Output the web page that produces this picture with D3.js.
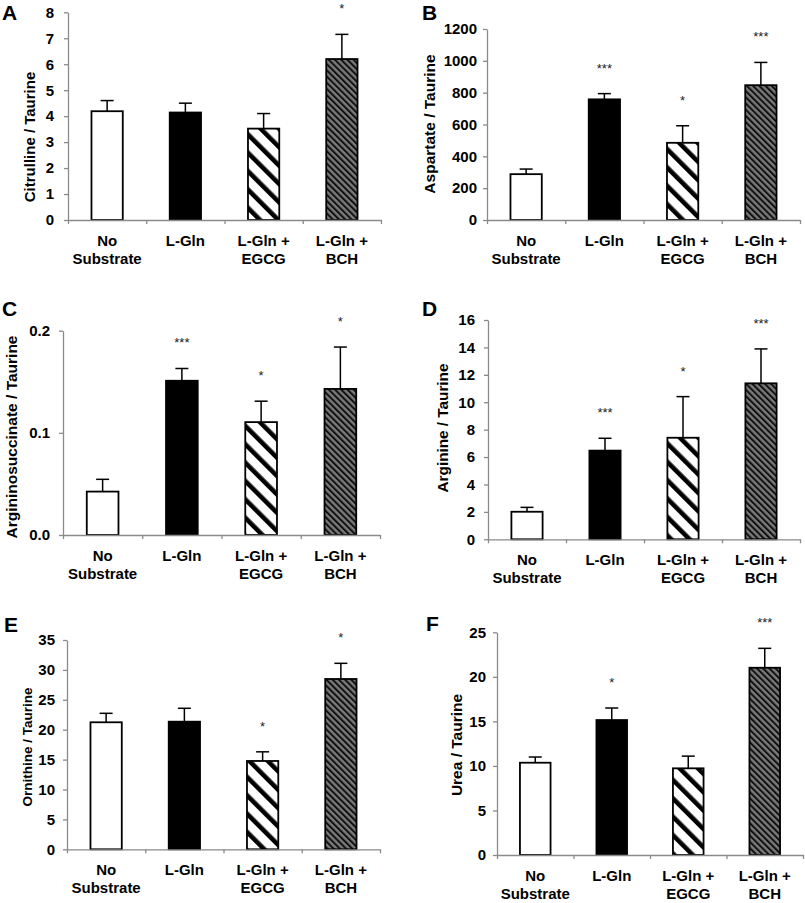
<!DOCTYPE html>
<html>
<head>
<meta charset="utf-8">
<script src="https://cdn.jsdelivr.net/npm/d3@7"></script>
<style>
html,body{margin:0;padding:0;background:#fff;}
svg{display:block;}
text{font-family:"Liberation Sans",Arial,Helvetica,sans-serif;}
</style>
</head>
<body>
<svg id="chart" width="805" height="903"></svg>
<script>
// ---------- data ----------
const categories = ["No Substrate", "L-Gln", "L-Gln + EGCG", "L-Gln + BCH"];
const categoryLines = [["No", "Substrate"], ["L-Gln"], ["L-Gln +", "EGCG"], ["L-Gln +", "BCH"]];

const citrulline = [4.19, 4.14, 3.52, 6.20];
const citrullineErr = [0.41, 0.36, 0.58, 0.95];
const citrullineSig = ["", "", "", "*"];
const citrullineTicks = [0, 1, 2, 3, 4, 5, 6, 7, 8];

const aspartate = [288, 758, 485, 847];
const aspartateErr = [32, 36, 107, 143];
const aspartateSig = ["", "***", "*", "***"];
const aspartateTicks = [0, 200, 400, 600, 800, 1000, 1200];

const argininosuccinate = [0.0425, 0.151, 0.1105, 0.143];
const argininosuccinateErr = [0.012, 0.012, 0.0205, 0.041];
const argininosuccinateSig = ["", "***", "*", "*"];
const argininosuccinateTicks = [0, 0.1, 0.2];

const arginine = [2.01, 6.47, 7.41, 11.38];
const arginineErr = [0.32, 0.90, 3.00, 2.51];
const arginineSig = ["", "***", "*", "***"];
const arginineTicks = [0, 2, 4, 6, 8, 10, 12, 14, 16];

const ornithine = [21.24, 21.34, 14.77, 28.48];
const ornithineErr = [1.50, 2.24, 1.53, 2.62];
const ornithineSig = ["", "", "*", "*"];
const ornithineTicks = [0, 5, 10, 15, 20, 25, 30, 35];

const urea = [10.36, 15.15, 9.73, 21.02];
const ureaErr = [0.64, 1.35, 1.37, 2.18];
const ureaSig = ["", "*", "", "***"];
const ureaTicks = [0, 5, 10, 15, 20, 25];

const panelLetters = ["A", "B", "C", "D", "E", "F"];
const yLabels = ["Citrulline / Taurine", "Aspartate / Taurine", "Argininosuccinate / Taurine",
                 "Arginine / Taurine", "Ornithine / Taurine", "Urea / Taurine"];

// ---------- layout (positions/styles only) ----------
const layout = [
  {x0: 68,  x1: 381, yTop: 12.3,  yBot: 220,   pad: 10, fmt: d3.format("d"),  lx: 2,   ly: 20,  ylx: 30,  yly: 137, ylSize: 15},
  {x0: 487, x1: 800, yTop: 29,    yBot: 220,   pad: 6,  fmt: d3.format("d"),  lx: 422, ly: 20,  ylx: 430, yly: 124, ylSize: 15.5},
  {x0: 63,  x1: 380, yTop: 330.7, yBot: 535,   pad: 9,  fmt: d3.format(".1f"),lx: 2,   ly: 316, ylx: 12,  yly: 437, ylSize: 15.5},
  {x0: 488, x1: 800, yTop: 320,   yBot: 539.3, pad: 9,  fmt: d3.format("d"),  lx: 422, ly: 316, ylx: 443, yly: 428, ylSize: 15.3},
  {x0: 67,  x1: 380, yTop: 640,   yBot: 849.3, pad: 8,  fmt: d3.format("d"),  lx: 4,   ly: 632, ylx: 27,  yly: 747, ylSize: 13.5},
  {x0: 497, x1: 803, yTop: 632.3, yBot: 855,   pad: 7,  fmt: d3.format("d"),  lx: 426, ly: 631, ylx: 457, yly: 745, ylSize: 15.5}
];

const panels = [
  {values: citrulline, errs: citrullineErr, sig: citrullineSig, ticks: citrullineTicks},
  {values: aspartate, errs: aspartateErr, sig: aspartateSig, ticks: aspartateTicks},
  {values: argininosuccinate, errs: argininosuccinateErr, sig: argininosuccinateSig, ticks: argininosuccinateTicks},
  {values: arginine, errs: arginineErr, sig: arginineSig, ticks: arginineTicks},
  {values: ornithine, errs: ornithineErr, sig: ornithineSig, ticks: ornithineTicks},
  {values: urea, errs: ureaErr, sig: ureaSig, ticks: ureaTicks}
];

const svg = d3.select("#chart");
const defs = svg.append("defs");

// stripes "\" direction
const p1 = defs.append("pattern").attr("id", "stripeWide")
  .attr("patternUnits", "userSpaceOnUse").attr("width", 13).attr("height", 13)
  .attr("patternTransform", "rotate(-45)");
p1.append("rect").attr("width", 13).attr("height", 13).attr("fill", "#fff");
p1.append("rect").attr("x", 0).attr("width", 4.6).attr("height", 13).attr("fill", "#000");

const p2 = defs.append("pattern").attr("id", "stripeGray")
  .attr("patternUnits", "userSpaceOnUse").attr("width", 4.4).attr("height", 4.4)
  .attr("patternTransform", "rotate(-45)");
p2.append("rect").attr("width", 4.4).attr("height", 4.4).attr("fill", "#7a7a7a");
p2.append("rect").attr("x", 0).attr("width", 2).attr("height", 4.4).attr("fill", "#111");

const fills = ["#ffffff", "#000000", "url(#stripeWide)", "url(#stripeGray)"];
const axisColor = "#8a8a8a";

panels.forEach((p, i) => {
  const L = layout[i];
  const g = svg.append("g");
  const ticks = p.ticks;
  const y = d3.scaleLinear().domain([0, ticks[ticks.length - 1]]).range([L.yBot, L.yTop]);
  const x = d3.scaleBand().domain(categories).range([L.x0, L.x1]).paddingInner(0.6).paddingOuter(0.3);
  const xb = d3.scaleLinear().domain([0, categories.length]).range([L.x0, L.x1]);

  // y axis
  const ya = g.append("g").attr("transform", `translate(${L.x0},0)`)
    .call(d3.axisLeft(y).tickValues(ticks).tickFormat(L.fmt).tickSize(4).tickSizeOuter(0).tickPadding(L.pad));
  ya.select(".domain").attr("stroke", axisColor).attr("stroke-width", 1.3);
  ya.selectAll(".tick line").attr("stroke", axisColor).attr("stroke-width", 1.3);
  ya.selectAll(".tick text").attr("fill", "#000").attr("font-size", 15).attr("font-weight", "bold")
    .attr("font-family", "'Liberation Sans', Arial, sans-serif");

  // bars
  g.selectAll("rect.bar").data(p.values).enter().append("rect")
    .attr("class", "bar")
    .attr("x", (d, k) => x(categories[k]))
    .attr("y", d => y(d))
    .attr("width", x.bandwidth())
    .attr("height", d => y(0) - y(d))
    .attr("fill", (d, k) => fills[k])
    .attr("stroke", "#000").attr("stroke-width", 1.8);

  // error bars (upper only)
  const cap = 6.5;
  p.values.forEach((v, k) => {
    const cx = x(categories[k]) + x.bandwidth() / 2;
    const top = y(v + p.errs[k]);
    g.append("line").attr("x1", cx).attr("x2", cx).attr("y1", y(v)).attr("y2", top)
      .attr("stroke", "#000").attr("stroke-width", 1.5);
    g.append("line").attr("x1", cx - cap).attr("x2", cx + cap).attr("y1", top).attr("y2", top)
      .attr("stroke", "#000").attr("stroke-width", 1.5);
    if (p.sig[k]) {
      g.append("text").attr("x", cx).attr("y", top - 21)
        .attr("text-anchor", "middle").attr("font-size", 13).attr("fill", "#222")
        .text(p.sig[k]);
    }
  });

  // x axis
  const xa = g.append("g").attr("transform", `translate(0,${L.yBot})`)
    .call(d3.axisBottom(xb).tickValues(d3.range(categories.length + 1)).tickFormat("").tickSize(4).tickSizeOuter(0));
  xa.select(".domain").attr("stroke", axisColor).attr("stroke-width", 1.3);
  xa.selectAll(".tick line").attr("stroke", axisColor).attr("stroke-width", 1.3);

  // category labels
  categoryLines.forEach((lines, k) => {
    const cx = x(categories[k]) + x.bandwidth() / 2;
    const t = g.append("text").attr("text-anchor", "middle").attr("font-size", 15)
      .attr("font-weight", "bold").attr("fill", "#000");
    lines.forEach((s, j) => {
      t.append("tspan").attr("x", cx).attr("y", L.yBot + 26 + j * 18).text(s);
    });
  });

  // y label
  g.append("text")
    .attr("transform", `translate(${L.ylx},${L.yly}) rotate(-90)`)
    .attr("text-anchor", "middle").attr("dy", "0.35em")
    .attr("font-size", L.ylSize).attr("font-weight", "bold").attr("fill", "#000")
    .text(yLabels[i]);

  // panel letter
  g.append("text").attr("x", L.lx).attr("y", L.ly)
    .attr("font-size", 21).attr("font-weight", "bold").attr("fill", "#000")
    .text(panelLetters[i]);
});
</script>
</body>
</html>
